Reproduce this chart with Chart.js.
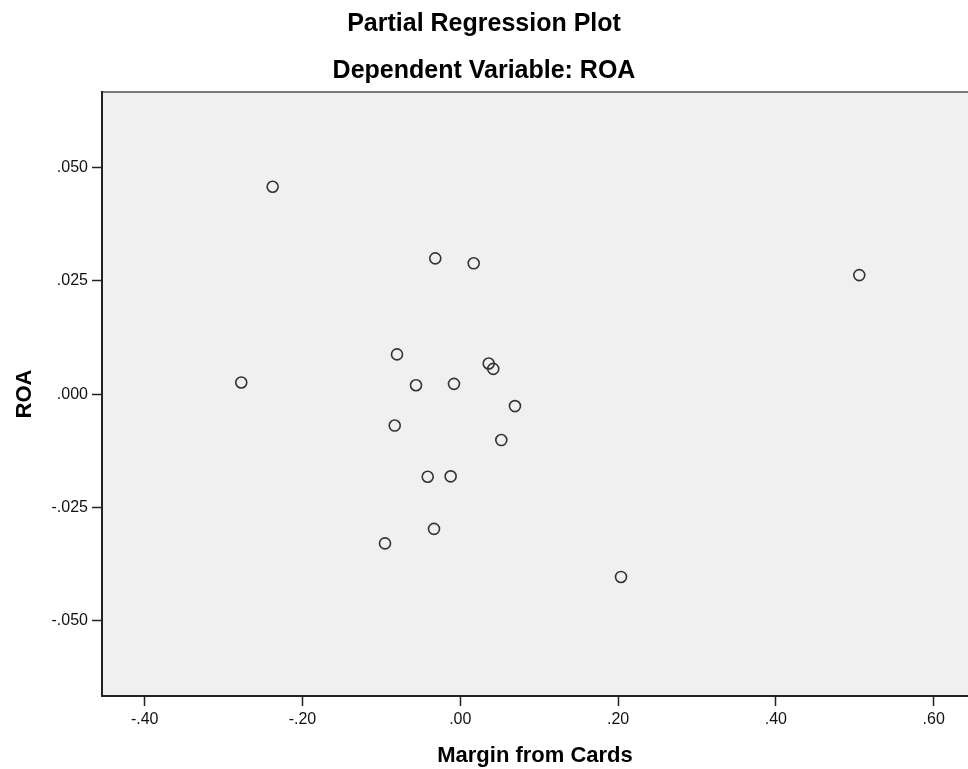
<!DOCTYPE html>
<html>
<head>
<meta charset="utf-8">
<script src="https://cdn.jsdelivr.net/npm/chart.js@4/dist/chart.umd.min.js"></script>
<style>
  html, body { margin: 0; padding: 0; background: #ffffff; overflow: hidden; }
  #wrap { width: 968px; height: 769px; }
  canvas { display: block; }
</style>
</head>
<body>
<div id="wrap"><canvas id="c" width="968" height="769"></canvas></div>
<script>
// ---- Data ----
const chartTitle = "Partial Regression Plot";
const chartSubtitle = "Dependent Variable: ROA";
const xAxisTitle = "Margin from Cards";
const yAxisTitle = "ROA";

const marginFromCards = [-0.2378, -0.0317, 0.0170, 0.5057, -0.2776, -0.0802, -0.0561, -0.0080, 0.0360,
                         0.0418, 0.0693, -0.0831, 0.0520, -0.0413, -0.0122, -0.0333, -0.0954, 0.2037];
const roa =             [0.0458, 0.0300, 0.0289, 0.0263, 0.0026, 0.0088, 0.0020, 0.0023, 0.0068,
                         0.0056, -0.0026, -0.0069, -0.0101, -0.0182, -0.0181, -0.0297, -0.0329, -0.0403];

const xTickValues = [-0.40, -0.20, 0.00, 0.20, 0.40, 0.60];
const yTickValues = [-0.050, -0.025, 0.000, 0.025, 0.050];

const xRange = [-0.4541, 0.6435];
const yRange = [-0.06657, 0.0667];

// ---- Build chart ----
const points = marginFromCards.map((x, i) => ({ x: x, y: roa[i] }));

function spssFormat(v, decimals) {
  let s = Math.abs(v).toFixed(decimals).replace(/^0/, "");
  return (v < -1e-12 ? "-" : "") + s;
}

const FONT = "'Liberation Sans', Arial, sans-serif";

// Let the plot panel run to the right edge of the canvas, as in the reference.
const fullWidthArea = {
  id: "fullWidthArea",
  afterLayout(chart) {
    const a = chart.chartArea;
    const xs = chart.scales.x;
    a.right = chart.width;
    a.width = a.right - a.left;
    xs.right = chart.width;
    xs.width = xs.right - xs.left;
    xs.configure();
  }
};

const plotFrame = {
  id: "plotFrame",
  beforeDraw(chart) {
    const { ctx, chartArea: a } = chart;
    ctx.save();
    ctx.fillStyle = "#f0f0f0";
    ctx.fillRect(a.left, a.top, a.right - a.left, a.bottom - a.top);
    ctx.restore();
  },
  afterDraw(chart) {
    const { ctx, chartArea: a } = chart;
    ctx.save();
    ctx.lineWidth = 2;
    ctx.strokeStyle = "#7a7a7a";
    ctx.beginPath();
    ctx.moveTo(a.left, a.top);
    ctx.lineTo(a.right, a.top);
    ctx.stroke();
    ctx.strokeStyle = "#222222";
    ctx.beginPath();
    ctx.moveTo(a.left, a.top - 1);
    ctx.lineTo(a.left, a.bottom);
    ctx.lineTo(a.right, a.bottom);
    ctx.stroke();
    ctx.restore();
  }
};

new Chart(document.getElementById("c"), {
  type: "scatter",
  data: {
    datasets: [{
      label: yAxisTitle,
      data: points,
      pointStyle: "circle",
      pointRadius: 5.5,
      pointHoverRadius: 5.5,
      pointBorderWidth: 1.6,
      pointBorderColor: "#333333",
      pointBackgroundColor: "rgba(0,0,0,0)",
      showLine: false
    }]
  },
  options: {
    responsive: false,
    animation: false,
    events: [],
    layout: { padding: { left: 0, right: 0, top: 0, bottom: 0 } },
    plugins: {
      legend: { display: false },
      tooltip: { enabled: false },
      title: {
        display: true,
        text: chartTitle,
        color: "#000000",
        font: { family: FONT, size: 25, weight: "bold", lineHeight: 1 },
        padding: { top: 12, bottom: 11 }
      },
      subtitle: {
        display: true,
        text: chartSubtitle,
        color: "#000000",
        font: { family: FONT, size: 25, weight: "bold", lineHeight: 1 },
        padding: { top: 11, bottom: 8 }
      }
    },
    scales: {
      x: {
        type: "linear",
        position: "bottom",
        min: xRange[0],
        max: xRange[1],
        afterBuildTicks(scale) { scale.ticks = xTickValues.map(v => ({ value: v })); },
        afterFit(scale) { scale.height = 73; scale.paddingLeft = 0; scale.paddingRight = 0; },
        grid: { drawOnChartArea: false, drawTicks: true, tickLength: 10, tickColor: "#222222", tickWidth: 1.5 },
        border: { display: false },
        ticks: {
          color: "#111111",
          padding: 4,
          maxRotation: 0,
          autoSkip: false,
          font: { family: FONT, size: 16 },
          callback: v => spssFormat(v, 2)
        },
        title: {
          display: true,
          text: xAxisTitle,
          color: "#000000",
          font: { family: FONT, size: 22, weight: "bold", lineHeight: 1 },
          padding: { top: 0, bottom: 2 }
        }
      },
      y: {
        type: "linear",
        position: "left",
        min: yRange[0],
        max: yRange[1],
        afterBuildTicks(scale) { scale.ticks = yTickValues.map(v => ({ value: v })); },
        afterFit(scale) { scale.width = 102; scale.paddingTop = 0; scale.paddingBottom = 0; },
        grid: { drawOnChartArea: false, drawTicks: true, tickLength: 10, tickColor: "#222222", tickWidth: 1.5 },
        border: { display: false },
        ticks: {
          color: "#111111",
          padding: 4,
          autoSkip: false,
          font: { family: FONT, size: 16 },
          callback: v => spssFormat(v, 3)
        },
        title: {
          display: true,
          text: yAxisTitle,
          color: "#000000",
          font: { family: FONT, size: 22, weight: "bold", lineHeight: 1 },
          padding: { top: 14, bottom: 0 }
        }
      }
    }
  },
  plugins: [fullWidthArea, plotFrame]
});
</script>
</body>
</html>
